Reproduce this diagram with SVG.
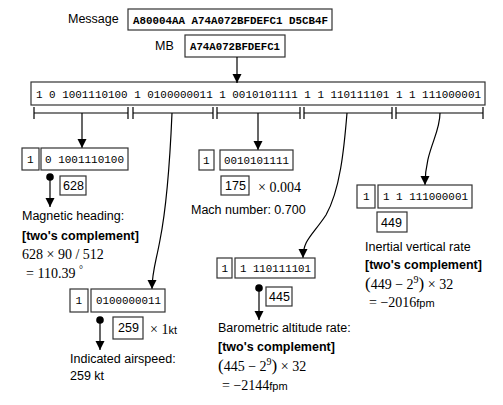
<svg xmlns="http://www.w3.org/2000/svg" width="503" height="405" viewBox="0 0 503 405">
<style>
.bx{fill:#fff;stroke:#333;stroke-width:1.2}
.ln{fill:none;stroke:#000;stroke-width:1.2}
.lbl{font-family:"Liberation Sans",Arial,sans-serif;font-size:12.5px;fill:#000}
.b{font-weight:bold}
.mono{font-family:"Liberation Mono","Courier New",monospace;font-size:11px;fill:#000}
.hex{font-family:"Liberation Mono","Courier New",monospace;font-size:11px;font-weight:bold;fill:#000}
.m{font-family:"Liberation Serif","Times New Roman",serif;font-size:14px;fill:#000}
.u{font-family:"Liberation Sans",Arial,sans-serif;font-size:11px}
</style>
<defs>
<marker id="ah" markerWidth="10" markerHeight="10" refX="9" refY="5" orient="auto" markerUnits="userSpaceOnUse">
<path d="M0,0.5 L9,5 L0,9.5 Z" fill="#000"/>
</marker>
</defs>

<g id="message">
<text class="lbl" x="68" y="23">Message</text>
<rect class="bx" x="128" y="9" width="204" height="21"/>
<text class="hex" x="133" y="23.5" textLength="195" lengthAdjust="spacingAndGlyphs">A80004AA A74A072BFDEFC1 D5CB4F</text>
</g>

<g id="mb">
<text class="lbl" x="155" y="50">MB</text>
<rect class="bx" x="185" y="35" width="100" height="22"/>
<text class="hex" x="190" y="50" textLength="90" lengthAdjust="spacingAndGlyphs">A74A072BFDEFC1</text>
</g>

<g id="bits">
<rect class="bx" x="31" y="82" width="454" height="23"/>
<text class="mono" x="36" y="97.5" textLength="445" lengthAdjust="spacingAndGlyphs">1 0 1001110100 1 0100000011 1 0010101111 1 1 110111101 1 1 111000001</text>
</g>

<g id="brackets" class="ln">
<path d="M34,113 H128 M34,107 V119 M128,107 V119"/>
<path d="M133,113 H213 M133,107 V119 M213,107 V119"/>
<path d="M217,113 H300 M217,107 V119 M300,107 V119"/>
<path d="M304,113 H392 M304,107 V119 M392,107 V119"/>
<path d="M396,113 H483 M396,107 V119 M483,107 V119"/>
</g>

<g id="connectors" class="ln">
<path d="M237,57 V83" marker-end="url(#ah)"/>
<path d="M82,113 V148" marker-end="url(#ah)"/>
<path d="M172,113 C170,160 166,210 160,240 C156,262 152,272 152,289" marker-end="url(#ah)"/>
<path d="M258,113 V150" marker-end="url(#ah)"/>
<path d="M347,113 C344,150 340,190 326,215 C312,236 303,240 303,258" marker-end="url(#ah)"/>
<path d="M440,113 C440,135 425,150 425,185" marker-end="url(#ah)"/>
<path d="M50,177 V207" marker-end="url(#ah)"/>
<path d="M100,320 V350" marker-end="url(#ah)"/>
<path d="M259,288 V320" marker-end="url(#ah)"/>
</g>
<g id="dots" fill="#000">
<circle cx="50" cy="177" r="3.8"/>
<circle cx="100" cy="320" r="3.8"/>
<circle cx="259" cy="288" r="3.8"/>
</g>

<g id="heading">
<rect class="bx" x="22" y="148" width="17" height="22"/>
<text class="mono" x="27" y="163">1</text>
<rect class="bx" x="41" y="148" width="87" height="22"/>
<text class="mono" x="45" y="163" textLength="79" lengthAdjust="spacingAndGlyphs">0 1001110100</text>
<rect class="bx" x="60" y="176" width="26" height="19"/>
<text class="lbl" x="63" y="190">628</text>
<text class="lbl" x="22" y="220">Magnetic heading:</text>
<text class="lbl b" x="22" y="240">[two's complement]</text>
<text class="m" x="22" y="259">628 × 90 / 512</text>
<text class="m" x="26" y="278">= 110.39 <tspan font-size="10" dy="-5">°</tspan></text>
</g>

<g id="airspeed">
<rect class="bx" x="70" y="289" width="18" height="23"/>
<text class="mono" x="75.5" y="304">1</text>
<rect class="bx" x="91" y="289" width="74" height="23"/>
<text class="mono" x="96" y="304" textLength="65" lengthAdjust="spacingAndGlyphs">0100000011</text>
<rect class="bx" x="113" y="317" width="30" height="22"/>
<text class="lbl" x="118" y="332">259</text>
<text class="m" x="150" y="334">× 1<tspan class="u">kt</tspan></text>
<text class="lbl" x="70" y="363">Indicated airspeed:</text>
<text class="lbl" x="70" y="380">259 kt</text>
</g>

<g id="mach">
<rect class="bx" x="199" y="150" width="15" height="20"/>
<text class="mono" x="203" y="164">1</text>
<rect class="bx" x="220" y="150" width="73" height="20"/>
<text class="mono" x="224" y="164" textLength="65" lengthAdjust="spacingAndGlyphs">0010101111</text>
<rect class="bx" x="221" y="176" width="28" height="19"/>
<text class="lbl" x="225" y="190">175</text>
<text class="m" x="258" y="192">× 0.004</text>
<text class="lbl" x="191" y="214">Mach number: 0.700</text>
</g>

<g id="baro">
<rect class="bx" x="217" y="258" width="15" height="20"/>
<text class="mono" x="221.5" y="272">1</text>
<rect class="bx" x="235" y="258" width="80" height="20"/>
<text class="mono" x="240" y="272" textLength="71" lengthAdjust="spacingAndGlyphs">1 110111101</text>
<rect class="bx" x="266" y="287" width="26" height="19"/>
<text class="lbl" x="269" y="301">445</text>
<text class="lbl" x="218" y="332">Barometric altitude rate:</text>
<text class="lbl b" x="218" y="351">[two's complement]</text>
<text class="m" x="218" y="371"><tspan font-size="17">(</tspan>445 − 2<tspan font-size="10" dy="-6">9</tspan><tspan font-size="17" dy="6">)</tspan> × 32</text>
<text class="m" x="222" y="390">= −2144<tspan class="u">fpm</tspan></text>
</g>

<g id="vertical">
<rect class="bx" x="357" y="185" width="18" height="23"/>
<text class="mono" x="363" y="200">1</text>
<rect class="bx" x="378" y="185" width="94" height="23"/>
<text class="mono" x="383" y="200" textLength="85" lengthAdjust="spacingAndGlyphs">1 1 111000001</text>
<rect class="bx" x="377" y="212" width="30" height="20"/>
<text class="lbl" x="381" y="227">449</text>
<text class="lbl" x="365" y="251">Inertial vertical rate</text>
<text class="lbl b" x="365" y="269">[two's complement]</text>
<text class="m" x="365" y="289"><tspan font-size="17">(</tspan>449 − 2<tspan font-size="10" dy="-6">9</tspan><tspan font-size="17" dy="6">)</tspan> × 32</text>
<text class="m" x="369" y="307">= −2016<tspan class="u">fpm</tspan></text>
</g>
</svg>
